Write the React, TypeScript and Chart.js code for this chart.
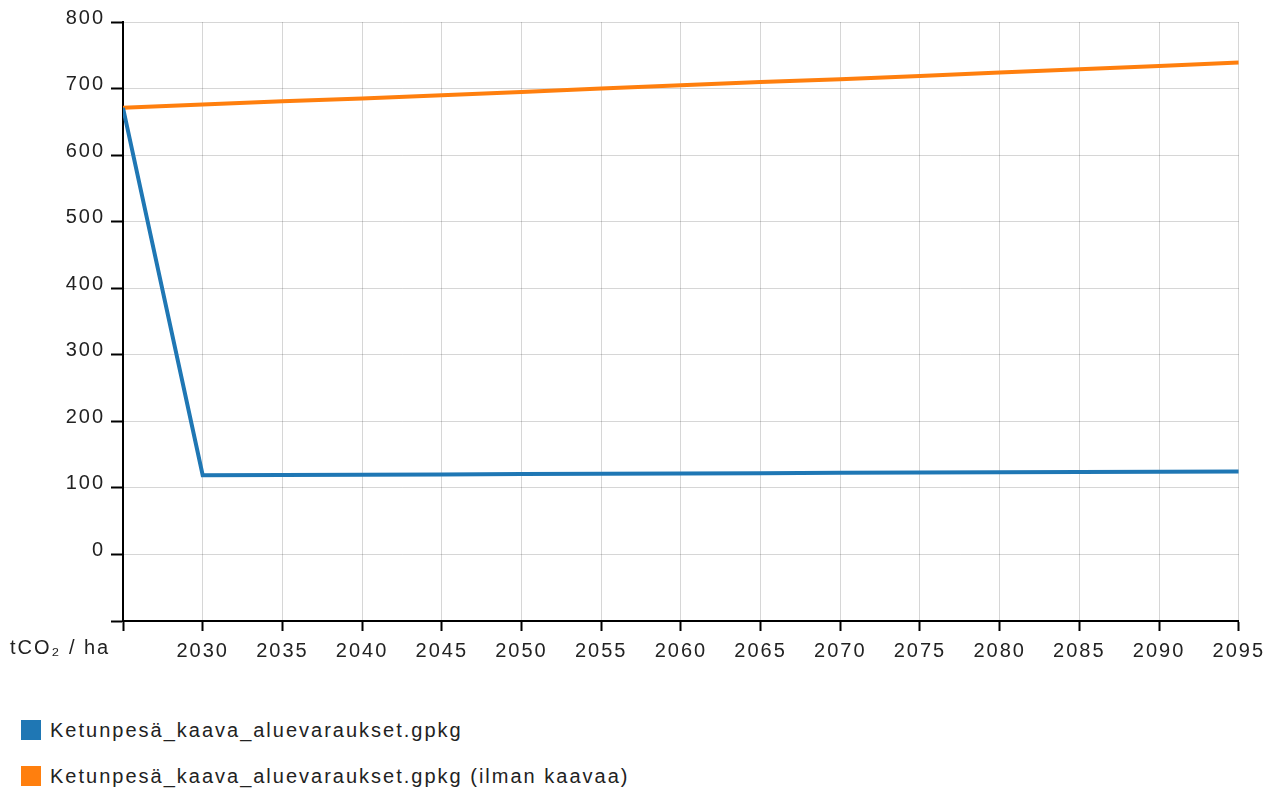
import React, { useEffect, useRef } from "react";
import { Chart, registerables } from "chart.js";

Chart.register(...registerables);

const years = [2025, 2030, 2035, 2040, 2045, 2050, 2055, 2060, 2065, 2070, 2075, 2080, 2085, 2090, 2095];
const withPlan = [671, 119, 119.4, 119.9, 120.3, 120.8, 121.2, 121.7, 122.1, 122.6, 123.0, 123.5, 123.9, 124.4, 124.8];
const withoutPlan = [671, 676, 681, 685, 690, 695, 700, 705, 710, 714, 719, 724, 729, 734, 739];
const seriesNames = [
  "Ketunpesä_kaava_aluevaraukset.gpkg",
  "Ketunpesä_kaava_aluevaraukset.gpkg (ilman kaavaa)",
];
const seriesColors = ["#1f77b4", "#ff7f0e"];
const yUnit = "tCO₂ / ha";

const FONT = "'Liberation Sans', Arial, sans-serif";

if (typeof document !== "undefined") {
  document.body.style.margin = "0";
}

const spacingPlugin = {
  id: "letterSpacing",
  beforeDraw(chart: any) {
    (chart.ctx as any).letterSpacing = "2px";
  },
};

export default function App() {
  const ref = useRef<HTMLCanvasElement>(null);
  useEffect(() => {
    if (!ref.current) return;
    const chart = new Chart(ref.current, {
      type: "line",
      data: {
        datasets: [withPlan, withoutPlan].map((vals, i) => ({
          label: seriesNames[i],
          data: years.map((x, j) => ({ x, y: vals[j] })),
          borderColor: seriesColors[i],
          backgroundColor: seriesColors[i],
          borderWidth: 4,
          pointRadius: 0,
          tension: 0,
        })),
      },
      options: {
        animation: false,
        responsive: false,
        maintainAspectRatio: false,
        layout: { padding: { left: 0, right: 27, top: 12, bottom: 0 } },
        plugins: { legend: { display: false }, tooltip: { enabled: false } },
        scales: {
          x: {
            type: "linear",
            min: 2025,
            max: 2095,
            afterFit: (s: any) => { s.height = 40; },
            ticks: {
              stepSize: 5,
              autoSkip: false,
              maxRotation: 0,
              padding: 8,
              color: "#222",
              font: { family: FONT, size: 20 },
              callback: (v: any) => (v === 2025 ? "" : String(v)),
            },
            grid: { color: "rgba(0,0,0,0.16)", lineWidth: 1, tickLength: 10, tickColor: "#000", tickWidth: 2 },
            border: { color: "#000", width: 2 },
          },
          y: {
            min: -100,
            max: 800,
            afterFit: (s: any) => { s.width = 115; },
            ticks: {
              stepSize: 100,
              padding: 6,
              labelOffset: -4,
              color: "#222",
              font: { family: FONT, size: 20 },
              callback: (v: any) => (v === -100 ? "" : String(v)),
            },
            grid: { color: "rgba(0,0,0,0.16)", lineWidth: 1, tickLength: 12, tickColor: "#000", tickWidth: 2 },
            border: { color: "#000", width: 2 },
          },
        },
      },
      plugins: [spacingPlugin],
    });
    return () => chart.destroy();
  }, []);

  const textStyle: React.CSSProperties = {
    fontFamily: FONT,
    fontSize: 20,
    letterSpacing: "2px",
    color: "#222",
    position: "absolute",
    whiteSpace: "nowrap",
    lineHeight: "22px",
  };

  return (
    <div style={{ padding: 8, width: 1258, height: 773, overflow: "hidden" }}>
      <div style={{ position: "relative", width: 1258, height: 773 }}>
        <canvas
          ref={ref}
          width={1261}
          height={657}
          style={{ display: "block", position: "absolute", left: 0, top: -4 }}
        />
        <div style={{ ...textStyle, left: 2, top: 628 }}>{yUnit}</div>
        {seriesNames.map((n, i) => (
          <div key={n} style={{ position: "absolute", left: 13, top: 711 + i * 46, display: "flex", alignItems: "center" }}>
            <div style={{ width: 20, height: 20, background: seriesColors[i] }} />
            <div style={{ ...textStyle, position: "static", marginLeft: 9 }}>{n}</div>
          </div>
        ))}
      </div>
    </div>
  );
}
